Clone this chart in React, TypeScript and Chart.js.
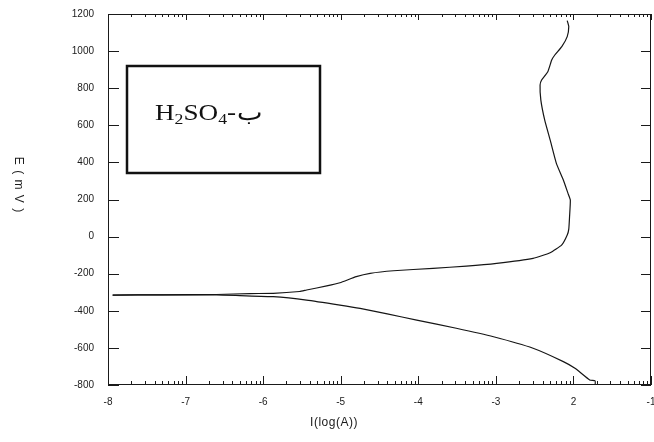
import React, { useEffect, useRef } from "react";
import { Chart, registerables } from "chart.js";

Chart.register(...registerables);

// ---- data ----
const xTickValues = [-8, -7, -6, -5, -4, -3, -2, -1];
const xTickLabels = ["-8", "-7", "-6", "-5", "-4", "-3", "2", "-1"];

// cathodic (lower) branch: log(I) and E (mV)
const cathodicLogI = [-7.94, -7.3, -6.6, -6.3, -5.87, -5.44, -5.01, -4.75, -4.4, -4.02, -3.51, -3.03, -2.52, -2.13, -1.98, -1.79, -1.72, -1.72];
const cathodicE = [-315, -314, -314, -318, -324, -342, -369, -387, -417, -450, -494, -540, -602, -674, -710, -773, -778, -800];

// anodic (upper) branch: log(I) and E (mV)
const anodicLogI = [-7.94, -7.3, -6.6, -6.17, -5.87, -5.53, -5.44, -5.18, -5.01, -4.8, -4.62, -4.32, -3.81, -3.38, -2.99, -2.52, -2.3, -2.15, -2.08, -2.06, -2.05, -2.04, -2.07, -2.13, -2.22, -2.3, -2.37, -2.42, -2.43, -2.41, -2.33, -2.28, -2.24, -2.15, -2.08, -2.06, -2.08];
const anodicE = [-315, -314, -312, -307, -306, -296, -288, -266, -249, -216, -198, -184, -171, -159, -144, -117, -87, -45, 8, 40, 107, 197, 233, 305, 395, 521, 628, 736, 817, 844, 889, 952, 979, 1024, 1078, 1132, 1164];

const yAxisTitle = "E ( m V )";
const xAxisTitle = "I(log(A))";
const legendParts = ["H", "2", "SO", "4", "-", "ب"];

function toPoints(xs: number[], ys: number[]) {
  return xs.map((x, i) => ({ x, y: ys[i] }));
}

const framePlugin = {
  id: "frameTicks",
  afterDraw(chart: any) {
    const { ctx, chartArea: a, scales } = chart;
    const xs = scales.x;
    const ys = scales.y;
    ctx.save();
    ctx.strokeStyle = "#1a1a1a";
    ctx.lineWidth = 1;
    ctx.strokeRect(a.left + 0.5, a.top + 0.5, a.right - a.left - 1, a.bottom - a.top - 1);

    ctx.beginPath();
    for (const v of xTickValues) {
      const px = Math.round(xs.getPixelForValue(v)) + 0.5;
      ctx.moveTo(px, a.bottom);
      ctx.lineTo(px, a.bottom - 9);
      ctx.moveTo(px, a.top);
      ctx.lineTo(px, a.top + 6);
    }
    for (let d = -8; d < -1; d++) {
      for (let k = 2; k <= 9; k++) {
        const px = Math.round(xs.getPixelForValue(d + Math.log10(k))) + 0.5;
        ctx.moveTo(px, a.bottom);
        ctx.lineTo(px, a.bottom - 4);
        ctx.moveTo(px, a.top);
        ctx.lineTo(px, a.top + 3);
      }
    }
    for (const t of ys.ticks) {
      const py = Math.round(ys.getPixelForValue(t.value)) + 0.5;
      ctx.moveTo(a.left, py);
      ctx.lineTo(a.left + 11, py);
      ctx.moveTo(a.right, py);
      ctx.lineTo(a.right - 10, py);
    }
    ctx.stroke();

    // axis titles
    ctx.fillStyle = "#1a1a1a";
    ctx.font = "12px 'Liberation Sans', Arial, sans-serif";
    ctx.textAlign = "center";
    ctx.textBaseline = "middle";
    (ctx as any).letterSpacing = "0.5px";
    ctx.fillText(xAxisTitle, 334, 423);
    ctx.save();
    ctx.translate(18, 185);
    ctx.rotate(Math.PI / 2);
    (ctx as any).letterSpacing = "1px";
    ctx.fillText(yAxisTitle, 0, 0);
    ctx.restore();
    (ctx as any).letterSpacing = "0px";

    // legend box
    const bx = a.left + 19;
    const by = a.top + 52;
    const bw = 193;
    const bh = 107;
    ctx.lineWidth = 2.5;
    ctx.strokeStyle = "#111";
    ctx.strokeRect(bx, by, bw, bh);

    ctx.save();
    ctx.translate(bx + 28, by + 54);
    ctx.scale(1.18, 1);
    ctx.textAlign = "left";
    ctx.textBaseline = "alphabetic";
    ctx.fillStyle = "#111";
    let cx = 0;
    legendParts.forEach((p, i) => {
      const sub = i === 1 || i === 3;
      ctx.font = sub ? "15px 'Liberation Serif', 'DejaVu Serif', serif" : "23px 'Liberation Serif', 'DejaVu Serif', serif";
      ctx.fillText(p, cx, sub ? 4 : 0);
      cx += ctx.measureText(p).width + (i === 4 ? 1 : 0);
    });
    ctx.restore();

    ctx.restore();
  },
};

export default function App() {
  const ref = useRef<HTMLCanvasElement | null>(null);
  useEffect(() => {
    if (!ref.current) return;
    const chart = new Chart(ref.current, {
      type: "scatter",
      data: {
        datasets: [
          {
            data: toPoints(cathodicLogI, cathodicE),
            showLine: true,
            borderColor: "#151515",
            borderWidth: 1.2,
            pointRadius: 0,
            tension: 0.15,
          },
          {
            data: toPoints(anodicLogI, anodicE),
            showLine: true,
            borderColor: "#151515",
            borderWidth: 1.2,
            pointRadius: 0,
            tension: 0.15,
          },
        ],
      },
      options: {
        responsive: false,
        animation: false,
        devicePixelRatio: 1,
        layout: { padding: { top: 14, right: 3, left: 0, bottom: 0 } },
        plugins: { legend: { display: false }, tooltip: { enabled: false } },
        scales: {
          x: {
            type: "linear",
            min: -8,
            max: -1,
            afterBuildTicks: (s: any) => {
              s.ticks = xTickValues.map((v) => ({ value: v }));
            },
            afterFit: (s: any) => {
              s.height = 57;
              s.paddingLeft = 0;
              s.paddingRight = 0;
            },
            grid: { display: false },
            border: { display: false },
            ticks: {
              autoSkip: false,
              maxRotation: 0,
              padding: 3,
              color: "#1a1a1a",
              font: { size: 10, family: "'Liberation Sans', Arial, sans-serif" },
              callback: (v: any) => {
                const i = xTickValues.indexOf(Number(v));
                return i >= 0 ? xTickLabels[i] : "";
              },
            },
          },
          y: {
            type: "linear",
            min: -800,
            max: 1200,
            afterFit: (s: any) => {
              s.width = 108;
              s.paddingTop = 0;
              s.paddingBottom = 0;
            },
            grid: { display: false },
            border: { display: false },
            ticks: {
              stepSize: 200,
              padding: 6,
              color: "#1a1a1a",
              font: { size: 10, family: "'Liberation Sans', Arial, sans-serif" },
              callback: (v: any) => String(v),
            },
          },
        },
      },
      plugins: [framePlugin],
    });
    return () => chart.destroy();
  }, []);

  return (
    <div style={{ position: "fixed", left: 0, top: 0, width: 654, height: 442, background: "#fff" }}>
      <canvas ref={ref} width={654} height={442} style={{ display: "block" }} />
    </div>
  );
}
